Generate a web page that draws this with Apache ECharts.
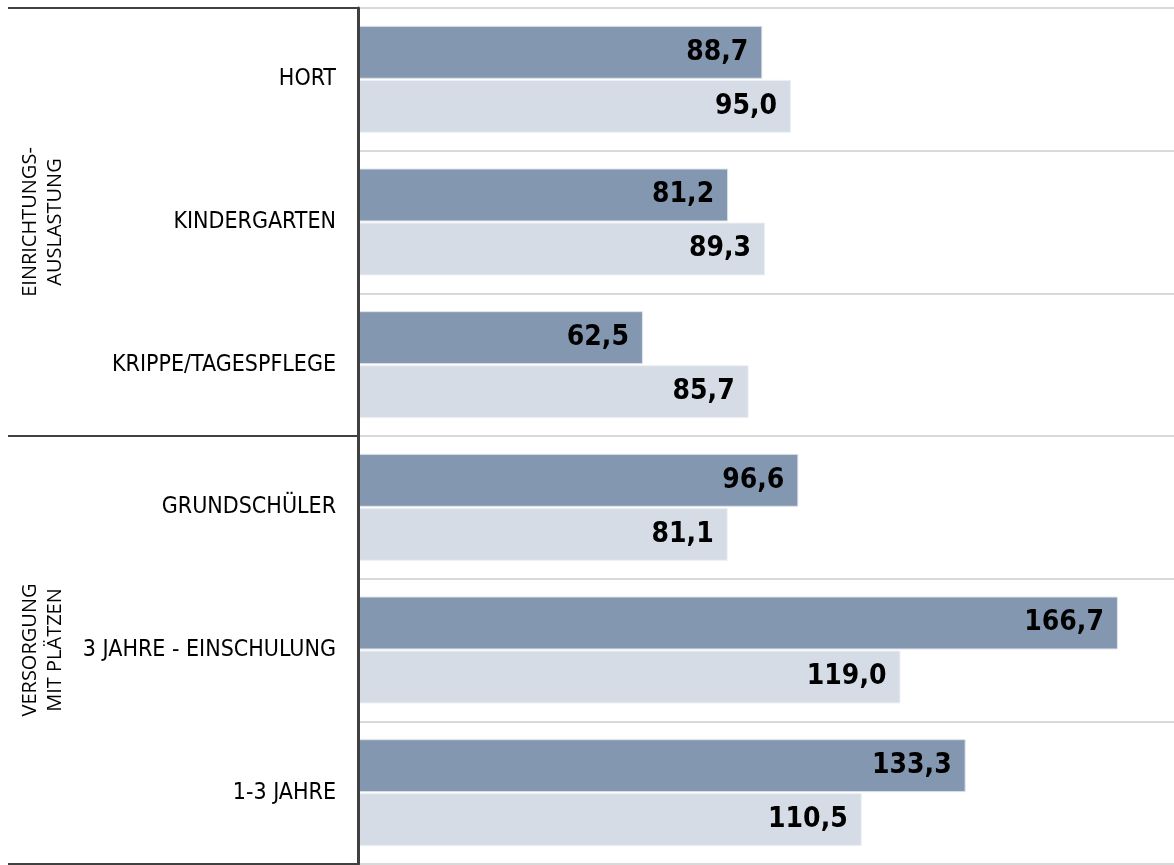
<!DOCTYPE html>
<html>
<head>
<meta charset="utf-8">
<script src="https://cdn.jsdelivr.net/npm/echarts@6/dist/echarts.min.js"></script>
<style>
html,body{margin:0;padding:0;background:#fff;}
#c{width:1174px;height:865px;}
</style>
</head>
<body>
<div id="c"></div>
<script>
var categories = ['HORT', 'KINDERGARTEN', 'KRIPPE/TAGESPFLEGE', 'GRUNDSCHÜLER', '3 JAHRE - EINSCHULUNG', '1-3 JAHRE'];
var groups = ['EINRICHTUNGS-\nAUSLASTUNG', 'VERSORGUNG\nMIT PLÄTZEN'];
var seriesA = [88.7, 81.2, 62.5, 96.6, 166.7, 133.3];
var seriesB = [95.0, 89.3, 85.7, 81.1, 119.0, 110.5];

var chart = echarts.init(document.getElementById('c'), null, {renderer: 'canvas'});
function fmt(p) { return p.value.toFixed(1).replace('.', ','); }
var labelStyle = {
  show: true, position: 'insideRight', distance: 14,
  formatter: fmt, color: '#000', fontSize: 28, fontWeight: 'bold',
  fontFamily: 'DejaVu Sans Condensed'
};
chart.setOption({
  animation: false,
  grid: {left: 358, right: 0, top: 8, bottom: 1},
  xAxis: {type: 'value', min: 0, max: 179, show: false},
  yAxis: [{
    type: 'category', data: categories, inverse: true, position: 'left', z: 5,
    axisLine: {show: true, lineStyle: {color: '#404040', width: 3}},
    axisTick: {show: false},
    splitLine: {show: true, lineStyle: {color: '#d9d9d9', width: 2}},
    axisLabel: {margin: 22, color: '#000', fontSize: 23, fontFamily: 'DejaVu Sans Condensed'}
  }, {
    type: 'category', data: groups, inverse: true, position: 'left', z: 5,
    axisLine: {show: false},
    axisTick: {show: true, length: 350, lineStyle: {color: '#404040', width: 2}},
    splitLine: {show: false},
    axisLabel: {margin: 290, rotate: 90, color: '#000', fontSize: 20, lineHeight: 25,
      fontFamily: 'Open Sans', align: 'center'}
  }],
  series: [{
    type: 'bar', name: 'Reihe 1', data: seriesA, yAxisIndex: 0,
    barGap: '2%', barCategoryGap: '25%',
    itemStyle: {color: '#8497b0', borderColor: '#dfe4ec', borderWidth: 1},
    label: labelStyle
  }, {
    type: 'bar', name: 'Reihe 2', data: seriesB, yAxisIndex: 0,
    itemStyle: {color: '#d6dce5', borderColor: '#eef1f5', borderWidth: 1},
    label: labelStyle
  }]
});
</script>
</body>
</html>
